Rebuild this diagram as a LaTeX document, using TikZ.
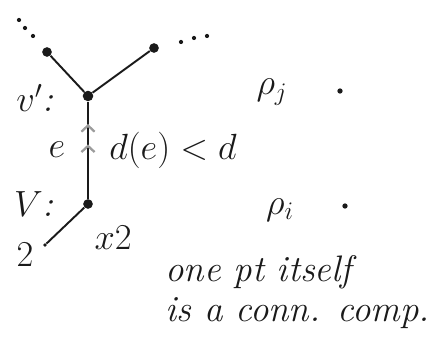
\documentclass[tikz,border=0pt]{standalone}
\usetikzlibrary{arrows.meta,positioning,calc,decorations.markings}
\definecolor{Ink}{HTML}{1A1A1A}
\definecolor{Faint}{HTML}{9C9C9C}
\tikzset{vtx/.style={circle,fill=Ink,inner sep=0pt,minimum size=5.5pt},stub/.style={circle,fill=Ink,inner sep=0pt,minimum size=2pt},pt/.style={circle,fill=Ink,inner sep=0pt,minimum size=3pt},edge/.style={draw=Ink,line width=1.1pt},hand/.style={text=Ink,font=\fontsize{21}{25}\selectfont\itshape,inner sep=0pt},flowmark/.style={postaction={decorate},decoration={markings,mark=at position 0.56 with {\arrow[Faint,line width=1.3pt]{Straight Barb[length=3.5pt,width=7.5pt]}},mark=at position 0.77 with {\arrow[Faint,line width=1.3pt]{Straight Barb[length=3.5pt,width=7.5pt]}}}}}

\begin{document}
\begin{tikzpicture}[x=0.02cm,y=-0.02cm]
\useasboundingbox (0,0) rectangle (446,350);
% tree near v and v'
\node[vtx,minimum size=6pt] (vp) at (88,96) {};
\node[vtx] (left) at (47,52) {};
\node[vtx] (right) at (154,48) {};
\node[vtx] (v) at (88,204) {};
\node[stub] (end) at (45,245) {};
\draw[edge] (vp)--(left);
\draw[edge] (vp)--(right);
\draw[edge] (v)--(end);
\draw[edge,flowmark] (v)--(vp);
\foreach \x/\y in {19/20,25/28,33/36,181/42,194/38,207/36}{\fill[Ink] (\x,\y) circle (1.2pt);}
\node[hand] (vplab) at (35,98) {$v'$:};
\node[hand] (vlab) at (34,204) {$V$:};
\node[hand] (elab) at (57,150) {$e$};
\node[hand] (dlab) at (173,150) {$d(e)<d$};
\node[hand] (two) at (25,255) {$2$};
\node[hand] (mult) at (113,238) {$x2$};
% the far points
\node[hand] (rhoj) at (272,92) {$\rho_j$};
\node[pt] (pj) at (340,91) {};
\node[hand] (rhoi) at (280,210) {$\rho_i$};
\node[pt] (pi) at (345,206) {};
\node[hand,anchor=base west] (noteA) at (165,282) {one pt itself};
\node[hand,anchor=base west] (noteB) at (165,322) {is a conn. comp.};
\end{tikzpicture}
\end{document}
